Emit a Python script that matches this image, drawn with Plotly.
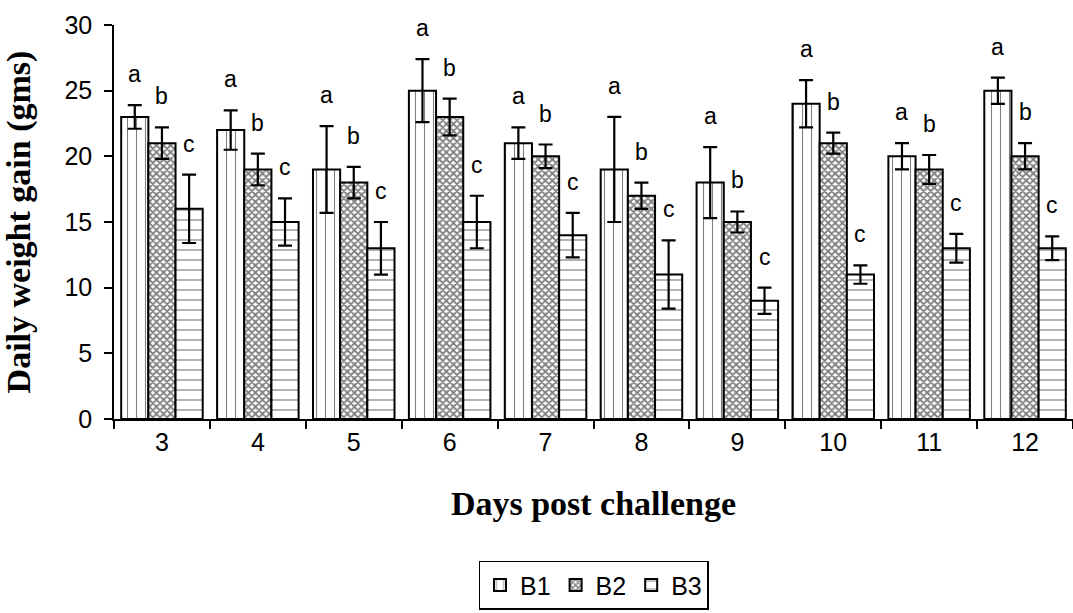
import plotly.graph_objects as go

days = [3, 4, 5, 6, 7, 8, 9, 10, 11, 12]
b1 = [23, 22, 19, 25, 21, 19, 18, 24, 20, 25]
b1_err = [0.9, 1.5, 3.3, 2.4, 1.2, 4.0, 2.7, 1.8, 1.0, 1.0]
b2 = [21, 19, 18, 23, 20, 17, 15, 21, 19, 20]
b2_err = [1.2, 1.2, 1.2, 1.4, 0.9, 1.0, 0.8, 0.8, 1.1, 1.0]
b3 = [16, 15, 13, 15, 14, 11, 9, 11, 13, 13]
b3_err = [2.6, 1.8, 2.0, 2.0, 1.7, 2.6, 1.0, 0.7, 1.1, 0.9]
series_names = ["B1", "B2", "B3"]
letters = ["a", "b", "c"]
y_ticks = [0, 5, 10, 15, 20, 25, 30]

BARGAP = 0.15
values = [b1, b2, b3]
errors = [b1_err, b2_err, b3_err]
patterns = [
    dict(shape="|", fgcolor="black", bgcolor="white", size=9, solidity=0.12),
    dict(shape="x", fgcolor="black", bgcolor="white", size=5, solidity=0.6),
    dict(shape="-", fgcolor="black", bgcolor="white", size=10, solidity=0.12),
]

fig = go.Figure()
for name, vals, errs, pat in zip(series_names, values, errors, patterns):
    fig.add_trace(go.Bar(
        x=days, y=vals, name=name,
        marker=dict(color="white", pattern=pat, line=dict(color="black", width=2)),
        error_y=dict(type="data", array=errs, visible=True, color="black", thickness=2.2, width=7),
    ))

slot = (1 - BARGAP) / 3
annotations = []
for i, (vals, errs, letter) in enumerate(zip(values, errors, letters)):
    for d, v, e in zip(days, vals, errs):
        annotations.append(dict(
            x=d + (i - 1) * slot, y=v + e, text=letter, showarrow=False,
            xref="x", yref="y", yanchor="bottom", yshift=16,
            font=dict(family="Liberation Sans, Arial", size=23, color="black"),
        ))

fig.update_layout(
    barmode="group", bargap=BARGAP,
    width=1073, height=613,
    margin=dict(l=114, r=0, t=25, b=194),
    plot_bgcolor="white", paper_bgcolor="white",
    font=dict(family="Liberation Sans, Arial", color="black", size=20),
    annotations=annotations,
    showlegend=True,
    legend=dict(
        orientation="h", x=0.5, xanchor="center", y=-0.36, yanchor="top",
        bordercolor="black", borderwidth=1.5,
        font=dict(family="Liberation Sans, Arial", size=25, color="black"),
        itemwidth=30, traceorder="normal",
    ),
    xaxis=dict(
        range=[2.5, 12.5], tickvals=days, ticktext=[str(d) for d in days],
        ticks="", showline=True, linecolor="black", linewidth=1.5,
        showgrid=False, zeroline=False, automargin=False,
        tickfont=dict(size=25),
        minor=dict(tick0=2.5, dtick=1, ticks="outside", ticklen=8, tickcolor="black", tickwidth=1.5),
        title=dict(text="Days post challenge", standoff=36,
                   font=dict(family="Liberation Serif, Times New Roman", size=34, color="black", weight="bold")),
    ),
    yaxis=dict(
        range=[0, 30], tickvals=y_ticks, ticks="outside", ticklen=8, tickwidth=1.5, tickcolor="black",
        showline=True, linecolor="black", linewidth=1.5, showgrid=False, zeroline=False, automargin=False,
        tickfont=dict(size=25), ticklabelstandoff=7,
        title=dict(text="Daily weight gain (gms)", standoff=26,
                   font=dict(family="Liberation Serif, Times New Roman", size=34, color="black", weight="bold")),
    ),
)

fig.write_html("out.html", config={"displayModeBar": False},
               post_script="document.body.style.margin='0';document.body.style.overflow='hidden';")
